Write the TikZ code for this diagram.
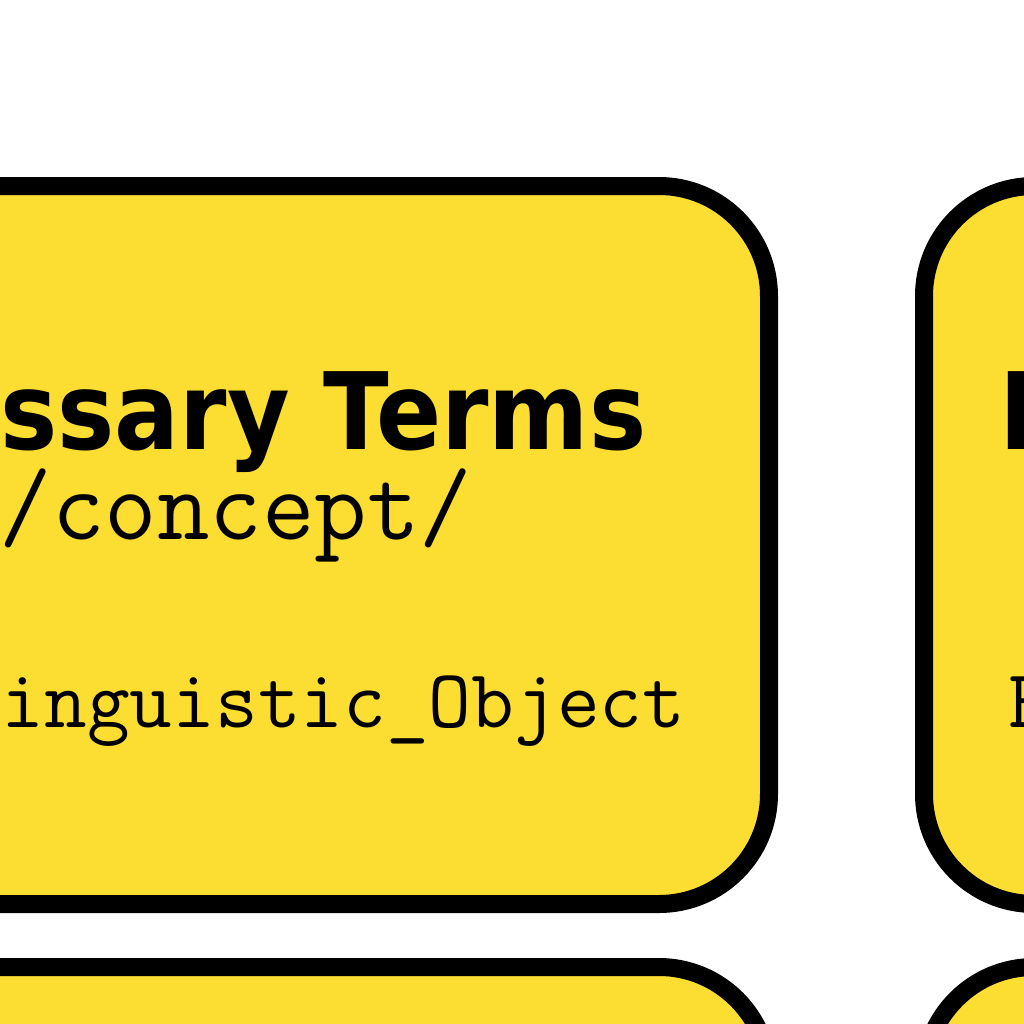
\documentclass[tikz,border=0pt]{standalone}
\usepackage{fontspec}
\usepackage{graphicx}
\setmainfont{DejaVu Sans}
\usetikzlibrary{positioning}
\definecolor{cardyellow}{RGB}{252,221,50}

\begin{document}
\begin{tikzpicture}[
    card/.style={draw=black, fill=cardyellow, line width=0.18cm, rounded corners=1.1cm, minimum width=9.19cm, minimum height=7.18cm, inner sep=0pt},
    heading/.style={inner sep=0pt, font=\fontsize{30.4}{32}\selectfont\bfseries},
    path/.style={inner sep=0pt, font=\ttfamily\fontsize{29}{31}\selectfont},
    cls/.style={inner sep=0pt, font=\ttfamily\fontsize{23.6}{25}\selectfont}
]
\fill[white] (0,0) rectangle (10.24,-10.24);
\useasboundingbox (0,0) rectangle (10.24,-10.24);
\clip (0,0) rectangle (10.24,-10.24);

% cards
\node[card] (glossary) at (3.095,-5.45) {};
\node[card] (right) at (13.835,-5.45) {};
\node[card] (lowleft) at (3.095,-13.26) {};
\node[card] (lowright) at (13.835,-13.26) {};

% texts of the first card
\node[heading, anchor=base east] (gtitle) at (6.47,-4.49) {\scalebox{0.9}[1]{ssary Terms}};
\node[path, anchor=base east] (gpath) at (4.73,-5.39) {/concept/};
\node[cls, anchor=base east] (gclass) at (6.86,-7.27) {inguistic\_Object};

% texts of the second card
\node[heading, anchor=base west] (rtitle) at (9.99,-4.49) {\scalebox{0.9}[1]{N}};
\node[cls, anchor=base west] (rclass) at (10.08,-7.27) {E};
\end{tikzpicture}
\end{document}
